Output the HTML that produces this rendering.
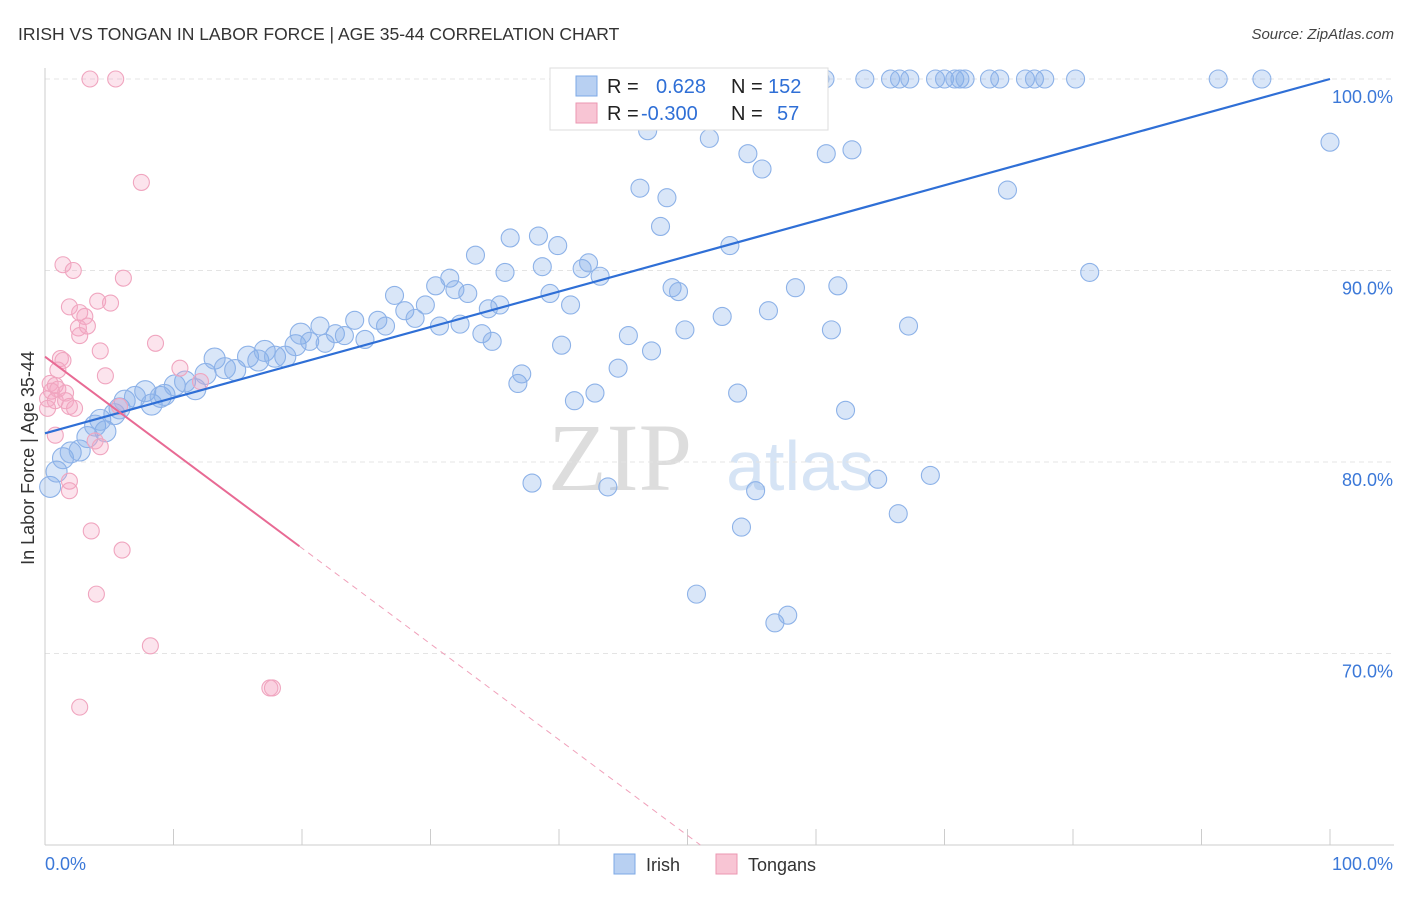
<!DOCTYPE html>
<html><head><meta charset="utf-8"><style>
body{margin:0;background:#fff;font-family:"Liberation Sans",sans-serif;}
#c{position:relative;width:1406px;height:892px;}
</style></head><body>
<div id="c">
<svg id="s" width="1406" height="892">
<text x="18" y="40" font-size="17.5" fill="#333">IRISH VS TONGAN IN LABOR FORCE | AGE 35-44 CORRELATION CHART</text>
<text x="1394" y="39" font-size="15" fill="#444" font-style="italic" text-anchor="end">Source: ZipAtlas.com</text>
<text x="34" y="458" font-size="18" fill="#333" text-anchor="middle" transform="rotate(-90 34 458)">In Labor Force | Age 35-44</text>
<text x="620" y="490" font-size="96" fill="#ddd" font-family="Liberation Serif,serif" text-anchor="middle">ZIP</text>
<text x="800" y="490" font-size="70" fill="#d6e4f5" text-anchor="middle">atlas</text>
<g id="grid"></g><g id="pts"></g><g id="lines"></g>
<g>
<rect x="550" y="68" width="278" height="62" fill="#fff" stroke="#ddd"/>
<rect x="576" y="76" width="21" height="20" fill="#b8d0f2" stroke="#7da8e6"/>
<rect x="576" y="103" width="21" height="20" fill="#f8c5d4" stroke="#eb97b2"/>
<text x="607" y="93" font-size="20" fill="#222">R = <tspan fill="#2f6fd6" x="656">0.628</tspan><tspan x="731" fill="#222">N =</tspan><tspan x="768" fill="#2f6fd6">152</tspan></text>
<text x="607" y="120" font-size="20" fill="#222">R = <tspan fill="#2f6fd6" x="641">-0.300</tspan><tspan x="731" fill="#222">N =</tspan><tspan x="777" fill="#2f6fd6">57</tspan></text>
</g>
<g>
<rect x="614" y="854" width="21" height="20" fill="#b8d0f2" stroke="#7da8e6"/>
<text x="646" y="871" font-size="18" fill="#333">Irish</text>
<rect x="716" y="854" width="21" height="20" fill="#f8c5d4" stroke="#eb97b2"/>
<text x="748" y="871" font-size="18" fill="#333">Tongans</text>
</g>
</svg></div>
<script>
const irishX=[0.4,0.9,1.4,2.0,2.7,3.3,3.9,4.7,4.3,5.4,5.8,6.2,7.0,7.8,8.3,9.0,9.3,10.1,10.9,11.7,12.5,13.2,14.0,14.8,15.8,16.6,17.1,17.9,18.7,19.5,19.9,20.6,21.4,21.8,22.6,23.3,24.1,24.9,25.9,26.5,27.2,28.0,28.8,29.6,30.4,30.7,31.5,31.9,32.3,32.9,33.5,34.0,34.5,34.8,35.4,35.8,36.2,36.8,37.1,37.9,38.4,38.7,39.3,39.9,40.2,40.9,41.2,41.8,42.3,42.8,43.2,43.8,44.6,45.4,46.3,46.9,47.2,47.9,48.4,48.8,49.3,49.8,50.7,51.7,52.7,53.3,53.9,54.2,54.7,55.3,55.8,56.3,56.8,57.8,58.4,60.8,61.2,61.7,62.3,62.8,64.8,66.4,67.2,68.9,74.9,81.3,100,50.2,51.3,52.1,56.0,57.6,58.8,59.5,60.3,60.7,63.8,65.8,66.5,67.3,69.3,70.0,70.8,71.2,71.6,73.5,74.3,76.3,77.0,77.8,80.2,91.3,94.7];
const irishY=[78.7,79.5,80.2,80.5,80.6,81.3,81.9,81.6,82.2,82.5,82.8,83.2,83.4,83.7,83.0,83.4,83.5,84.0,84.2,83.8,84.6,85.4,84.9,84.8,85.5,85.3,85.8,85.5,85.5,86.1,86.7,86.3,87.1,86.2,86.7,86.6,87.4,86.4,87.4,87.1,88.7,87.9,87.5,88.2,89.2,87.1,89.6,89.0,87.2,88.8,90.8,86.7,88.0,86.3,88.2,89.9,91.7,84.1,84.6,78.9,91.8,90.2,88.8,91.3,86.1,88.2,83.2,90.1,90.4,83.6,89.7,78.7,84.9,86.6,94.3,97.3,85.8,92.3,93.8,89.1,88.9,86.9,73.1,96.9,87.6,91.3,83.6,76.6,96.1,78.5,95.3,87.9,71.6,72.0,89.1,96.1,86.9,89.2,82.7,96.3,79.1,77.3,87.1,79.3,94.2,89.9,96.7,100,100,100,100,100,100,100,100,100,100,100,100,100,100,100,100,100,100,100,100,100,100,100,100,100,100];
const tonX=[3.5,5.5,7.5,1.4,2.2,6.1,1.9,4.1,5.1,2.7,3.1,2.6,3.3,2.7,8.6,4.3,1.2,1.4,10.5,1.0,4.7,0.4,0.8,0.5,1.0,1.6,0.2,0.8,1.6,1.9,2.3,0.2,5.8,12.1,0.8,3.9,4.3,1.9,1.9,3.6,6.0,4.0,8.2,17.5,17.7,2.7];
const tonY=[100,100,94.6,90.3,90.0,89.6,88.1,88.4,88.3,87.8,87.6,87.0,87.1,86.6,86.2,85.8,85.4,85.3,84.9,84.8,84.5,84.1,84.0,83.7,83.8,83.6,83.3,83.2,83.2,82.9,82.8,82.8,82.9,84.2,81.4,81.1,80.8,79.0,78.5,76.4,75.4,73.1,70.4,68.2,68.2,67.2];
const yTicks=[100,90,80,70];
const xTickLabels=["0.0%","100.0%"];
const irishLine=[81.5,100], tonLine=[85.5,-0.5];
const NS="http://www.w3.org/2000/svg";
const sx=v=>45+v*12.85, sy=v=>79+(100-v)*19.15;
function mk(tag,at,parent){const e=document.createElementNS(NS,tag);for(const k in at)e.setAttribute(k,at[k]);document.getElementById(parent).appendChild(e);return e;}
yTicks.forEach(t=>{
 let l=mk('line',{x1:45,x2:1394,y1:sy(t),y2:sy(t),stroke:'#e4e4e4','stroke-dasharray':'5,4'},'grid');
 
 
 let tx=mk('text',{x:1393,y:sy(t)+24,'font-size':18,fill:'#3b78d8','text-anchor':'end'},'grid');tx.textContent=t.toFixed(1)+'%';
 
 
});
let ax=mk('line',{x1:45,x2:45,y1:68,y2:845,stroke:'#ccc'},'grid');


let bx=mk('line',{x1:45,x2:1394,y1:845,y2:845,stroke:'#ccc'},'grid');


for(let i=0;i<=10;i++){let t=mk('line',{x1:sx(i*10),x2:sx(i*10),y1:829,y2:845,stroke:'#ccc'},'grid');
 
 }
[[0,'start'],[100,'end']].forEach((p,i)=>{let t=mk('text',{x:p[0]?1393:45,y:870,'font-size':18,fill:'#3b78d8','text-anchor':p[1]},'grid');t.textContent=xTickLabels[i];
 
 });
irishX.forEach((x,i)=>{let r=x<20?10.5:9;let c=mk('circle',{cx:sx(x),cy:sy(irishY[i]),r:r,fill:'rgba(130,172,232,0.3)',stroke:'#8db2e8','stroke-width':1.1},'pts');
 
 });
tonX.forEach((x,i)=>{let c=mk('circle',{cx:sx(x),cy:sy(tonY[i]),r:8,fill:'rgba(245,165,195,0.3)',stroke:'#f0a5bf','stroke-width':1.1},'pts');
 
 });
let bl=mk('line',{x1:sx(0),y1:sy(irishLine[0]),x2:sx(100),y2:sy(irishLine[1]),stroke:'#2f6fd6','stroke-width':2.2},'lines');


let pl=mk('line',{x1:sx(0),y1:sy(tonLine[0]),x2:sx(19.8),y2:sy(tonLine[0]+tonLine[1]*19.8),stroke:'#e86a94','stroke-width':2},'lines');


let xe=(tonLine[0]-60)/-tonLine[1];
let pd=mk('line',{x1:sx(19.8),y1:sy(tonLine[0]+tonLine[1]*19.8),x2:sx(xe),y2:sy(60),stroke:'#f0a0ba','stroke-width':1,'stroke-dasharray':'6,5'},'lines');


</script>
</body></html>
